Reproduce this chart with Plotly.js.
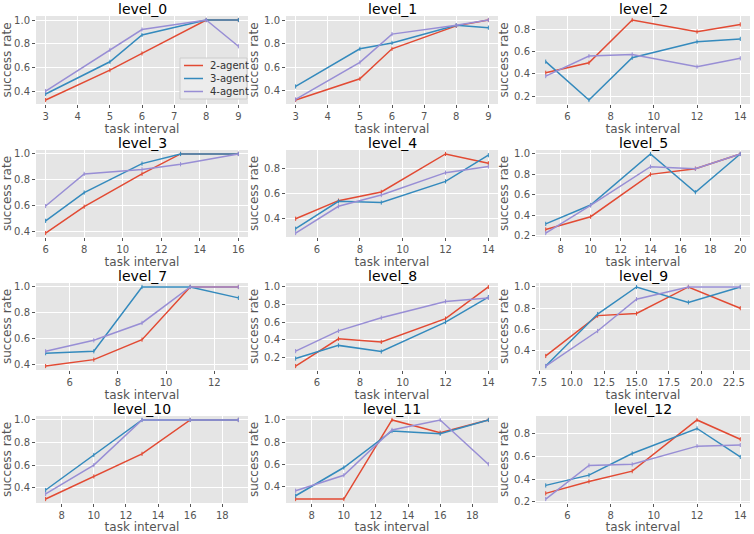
<!DOCTYPE html>
<html>
<head>
<meta charset="utf-8">
<script src="https://cdn.plot.ly/plotly-3.0.1.min.js"></script>
<style>html,body{margin:0;padding:0;background:#fff;}#chart{width:754px;height:534px;}</style>
</head>
<body>
<div id="chart"></div>
<script>
// ---- data ----
const levelNames = ["level_0","level_1","level_2","level_3","level_4","level_5","level_7","level_8","level_9","level_10","level_11","level_12"];
const seriesNames = ["2-agent","3-agent","4-agent"];
const taskIntervals = [
  [3,5,6,8,9],
  [3,5,6,8,9],
  [5,7,9,12,14],
  [6,8,11,13,16],
  [5,7,9,12,14],
  [7,10,14,17,20],
  [5,7,9,11,13],
  [5,7,9,12,14],
  [8,12,15,19,23],
  [7,10,13,16,19],
  [7,10,13,16,19],
  [5,7,9,12,14]
];
const agent2 = [
  [0.33,0.58,0.72,1.0,1.0],
  [0.32,0.50,0.755,0.95,1.0],
  [0.41,0.50,0.885,0.78,0.845],
  [0.385,0.59,0.845,1.0,1.0],
  [0.40,0.545,0.615,0.92,0.845],
  [0.26,0.385,0.80,0.855,1.0],
  [0.385,0.435,0.59,1.0,1.0],
  [0.10,0.41,0.375,0.64,1.0],
  [0.35,0.73,0.75,1.0,0.80],
  [0.30,0.50,0.70,1.0,1.0],
  [0.285,0.285,1.0,0.885,1.0],
  [0.275,0.38,0.47,0.92,0.75]
];
const agent3 = [
  [0.38,0.65,0.875,1.0,1.0],
  [0.435,0.755,0.805,0.955,0.935],
  [0.51,0.165,0.545,0.69,0.715],
  [0.48,0.70,0.925,1.0,1.0],
  [0.32,0.54,0.53,0.70,0.91],
  [0.315,0.50,1.0,0.625,1.0],
  [0.485,0.50,1.0,1.0,0.915],
  [0.185,0.335,0.265,0.60,0.885],
  [0.255,0.745,1.0,0.855,1.0],
  [0.38,0.69,1.0,1.0,1.0],
  [0.315,0.57,0.90,0.875,1.0],
  [0.345,0.435,0.625,0.845,0.595]
];
const agent4 = [
  [0.405,0.75,0.92,1.0,0.78],
  [0.325,0.64,0.88,0.955,1.0],
  [0.38,0.56,0.575,0.465,0.54],
  [0.595,0.845,0.88,0.92,1.0],
  [0.285,0.50,0.59,0.77,0.82],
  [0.225,0.495,0.875,0.855,1.0],
  [0.50,0.585,0.72,1.0,1.0],
  [0.27,0.50,0.65,0.835,0.875],
  [0.255,0.585,0.885,1.0,1.0],
  [0.345,0.60,1.0,1.0,1.0],
  [0.36,0.50,0.91,1.0,0.60],
  [0.225,0.52,0.53,0.69,0.70]
];
const xTickSteps = [1,1,2,2,2,2,2,2,2.5,2,2,2];
const xTickFormats = ["","","","","","","","",".1f","","",""];
const xTitleText = "task interval";
const yTitleText = "success rate";

// ---- style ----
const colors = ["#E24A33","#348ABD","#988ED5"];
const W = 754, H = 534;
const colPx = [[36,248],[286,498],[536,750]];
const rowPx = [[16,104],[150,237],[283,370],[416,503]];
const font = "DejaVu Sans, sans-serif";
const px = v => v / W;
const py = v => 1 - v / H;

const traces = [];
const layout = {
  width: W, height: H,
  margin: {l:0,r:0,t:0,b:0},
  paper_bgcolor: "#ffffff",
  plot_bgcolor: "#E5E5E5",
  font: {family: font, color: "#555555", size: 10},
  showlegend: false,
  annotations: [],
  shapes: []
};

function range5(arrs) {
  let mn = Infinity, mx = -Infinity;
  arrs.forEach(a => a.forEach(v => { if (v < mn) mn = v; if (v > mx) mx = v; }));
  const pad = (mx - mn) * 0.05;
  return [mn - pad, mx + pad];
}

levelNames.forEach((name, i) => {
  const r = Math.floor(i / 3), c = i % 3;
  const n = i + 1;
  const xa = n === 1 ? "x" : "x" + n;
  const ya = n === 1 ? "y" : "y" + n;
  const xKey = n === 1 ? "xaxis" : "xaxis" + n;
  const yKey = n === 1 ? "yaxis" : "yaxis" + n;
  const series = [agent2[i], agent3[i], agent4[i]];
  series.forEach((vals, s) => {
    traces.push({
      type: "scatter", mode: "lines+markers",
      x: taskIntervals[i], y: vals,
      name: seriesNames[s],
      line: {color: colors[s], width: 1.5},
      marker: {symbol: "line-ns-open", size: 3, line: {color: colors[s], width: 1}},
      xaxis: xa, yaxis: ya
    });
  });
  const xd = [px(colPx[c][0]), px(colPx[c][1])];
  const yd = [py(rowPx[r][1]), py(rowPx[r][0])];
  layout[xKey] = {
    domain: xd, anchor: ya,
    range: range5([taskIntervals[i]]),
    dtick: xTickSteps[i], tickformat: xTickFormats[i],
    showgrid: true, gridcolor: "#FFFFFF", gridwidth: 1,
    zeroline: false, showline: false,
    ticks: "outside", ticklen: 3, tickcolor: "#555555",
    tickfont: {size: 10, color: "#555555"},
    title: {text: xTitleText, font: {size: 12, color: "#555555"}, standoff: 0}
  };
  layout[yKey] = {
    domain: yd, anchor: xa,
    range: range5(series),
    dtick: 0.2, tickformat: ".1f",
    showgrid: true, gridcolor: "#FFFFFF", gridwidth: 1,
    zeroline: false, showline: false,
    ticks: "outside", ticklen: 3, tickcolor: "#555555",
    tickfont: {size: 10, color: "#555555"},
    title: {text: yTitleText, font: {size: 12, color: "#555555"}, standoff: 2}
  };
  // subplot title
  layout.annotations.push({
    text: name, xref: "paper", yref: "paper",
    x: (xd[0] + xd[1]) / 2, y: yd[1],
    xanchor: "center", yanchor: "middle", yshift: 7, borderpad: 0,
    showarrow: false,
    font: {family: font, size: 14, color: "#000000"}
  });
});

// ---- legend (inside level_0, lower right) ----
const legBox = {x0: 180, x1: 247, y0: 58, y1: 99};
layout.shapes.push({
  type: "rect", xref: "paper", yref: "paper",
  x0: px(legBox.x0), x1: px(legBox.x1), y0: py(legBox.y1), y1: py(legBox.y0),
  fillcolor: "#ECECEC", line: {color: "#CCCCCC", width: 1}, layer: "above"
});
seriesNames.forEach((nm, s) => {
  const yc = 65.5 + s * 13;
  layout.shapes.push({
    type: "line", xref: "paper", yref: "paper",
    x0: px(184), x1: px(203), y0: py(yc), y1: py(yc),
    line: {color: colors[s], width: 1.5}, layer: "above"
  });
  layout.annotations.push({
    text: nm, xref: "paper", yref: "paper",
    x: px(209), y: py(yc), xanchor: "left", yanchor: "middle",
    showarrow: false, borderpad: 0,
    font: {family: font, size: 10, color: "#333333"}
  });
});

Plotly.newPlot("chart", traces, layout, {displayModeBar: false, staticPlot: true});
</script>
</body>
</html>
